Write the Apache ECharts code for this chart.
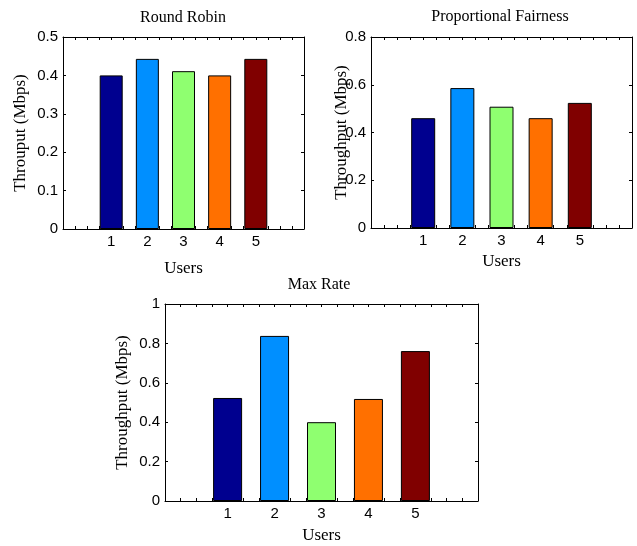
<!DOCTYPE html>
<html>
<head>
<meta charset="utf-8">
<script src="https://cdn.jsdelivr.net/npm/echarts@6/dist/echarts.min.js"></script>
<style>
  html, body { margin: 0; padding: 0; background: #fff; }
  #chart { width: 637px; height: 546px; }
</style>
</head>
<body>
<div id="chart"></div>
<script>
// data
const users = [1, 2, 3, 4, 5];
const roundRobin = [0.40, 0.443, 0.411, 0.40, 0.443];
const propFairness = [0.46, 0.586, 0.508, 0.46, 0.524];
const maxRate = [0.523, 0.838, 0.40, 0.518, 0.761];
const barColors = ['#00008F', '#008FFF', '#8FFF70', '#FF7000', '#800000'];

const serif = 'Liberation Serif';
const sans = 'Liberation Sans';

// one panel per scheduler
const panels = [
  {
    title: 'Round Robin', titleX: 183, titleY: 10,
    grid: { left: 63, top: 37, width: 241, height: 192 },
    yName: 'Throuput (Mbps)', yMax: 0.5, yStep: 0.1, yGap: 34, xGap: 31,
    values: roundRobin, barWidth: 23,
  },
  {
    title: 'Proportional Fairness', titleX: 500, titleY: 9,
    grid: { left: 371, top: 37, width: 261, height: 191 },
    yName: 'Throughput (Mbps)', yMax: 0.8, yStep: 0.2, yGap: 21, xGap: 25,
    values: propFairness, barWidth: 24,
  },
  {
    title: 'Max Rate', titleX: 319, titleY: 277,
    grid: { left: 165, top: 304, width: 313, height: 197 },
    yName: 'Throughput (Mbps)', yMax: 1, yStep: 0.2, yGap: 34, xGap: 26,
    values: maxRate, barWidth: 29,
  },
];

const line = { show: true, onZero: false, lineStyle: { color: '#000', width: 1 } };
const tickIn = { show: true, inside: true, length: 3, lineStyle: { color: '#000' } };

const xLabel = (v) => {
  const r = Math.round(v);
  return Math.abs(v - r) < 1e-6 && users.includes(r) ? String(r) : '';
};

const option = {
  animation: false,
  title: [],
  grid: [],
  xAxis: [],
  yAxis: [],
  series: [],
};

panels.forEach((p, i) => {
  option.title.push({
    text: p.title,
    left: p.titleX,
    top: p.titleY,
    textAlign: 'center',
    padding: 0,
    textStyle: { fontFamily: serif, fontSize: 16, fontWeight: 'normal', color: '#000' },
  });
  option.grid.push({ ...p.grid, containLabel: false });

  const xBase = { gridIndex: i, type: 'value', min: -1 / 3, max: 19 / 3, interval: 1 / 3, axisLine: line, axisTick: tickIn, splitLine: { show: false } };
  const yBase = { gridIndex: i, type: 'value', min: 0, max: p.yMax, interval: p.yStep, axisLine: line, axisTick: tickIn, splitLine: { show: false } };

  option.xAxis.push({
    ...xBase,
    position: 'bottom',
    name: 'Users',
    nameLocation: 'middle',
    nameGap: p.xGap,
    nameMoveOverlap: false,
    nameTextStyle: { fontFamily: serif, fontSize: 17, color: '#000' },
    axisLabel: { formatter: xLabel, margin: 5, fontFamily: sans, fontSize: 15, color: '#000' },
  });
  option.xAxis.push({ ...xBase, position: 'top', axisLabel: { show: false } });

  option.yAxis.push({
    ...yBase,
    position: 'left',
    name: p.yName,
    nameLocation: 'middle',
    nameGap: p.yGap,
    nameMoveOverlap: false,
    nameTextStyle: { fontFamily: serif, fontSize: 17, color: '#000' },
    axisLabel: { margin: 5, fontFamily: sans, fontSize: 15, color: '#000' },
  });
  option.yAxis.push({ ...yBase, position: 'right', axisLabel: { show: false } });

  option.series.push({
    type: 'bar',
    xAxisIndex: i * 2,
    yAxisIndex: i * 2,
    barWidth: p.barWidth,
    data: users.map((u, k) => ({
      value: [u, p.values[k]],
      itemStyle: { color: barColors[k], borderColor: '#000', borderWidth: 1 },
    })),
  });
});

const chart = echarts.init(document.getElementById('chart'), null, { renderer: 'canvas' });
chart.setOption(option);
</script>
</body>
</html>
